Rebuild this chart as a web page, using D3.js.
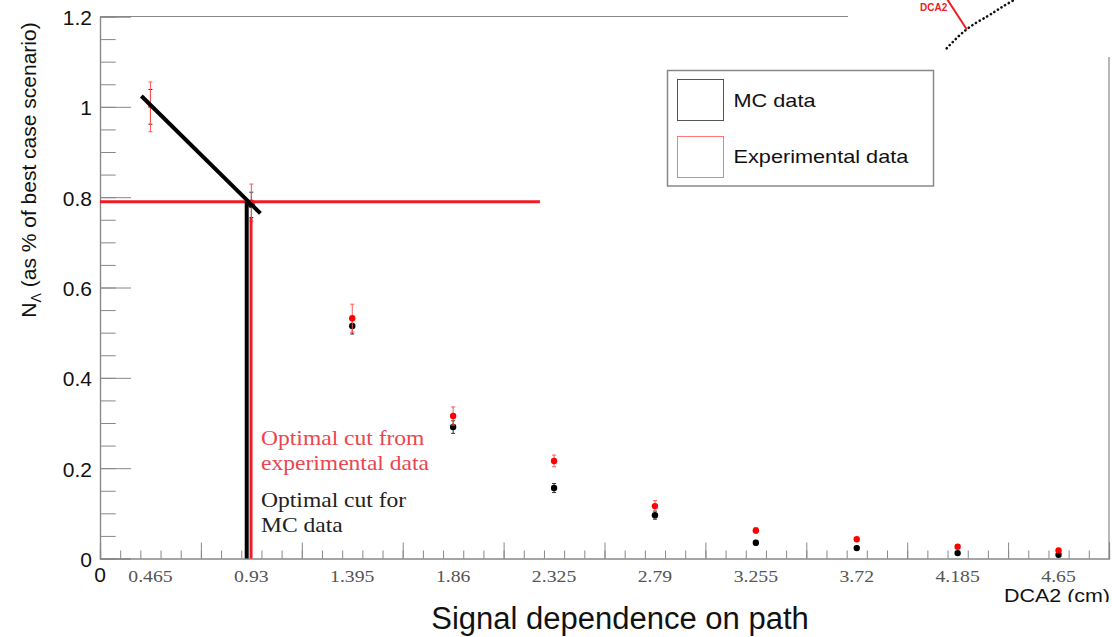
<!DOCTYPE html>
<html>
<head>
<meta charset="utf-8">
<script src="https://cdn.jsdelivr.net/npm/d3@7"></script>
<style>
  body { margin: 0; background: #fff; }
  .sans { font-family: "Liberation Sans", Arial, sans-serif; }
  .serif { font-family: "Liberation Serif", "Times New Roman", serif; }
</style>
</head>
<body>
<div id="grafDCA"></div>
<script>
// bin labels (DCA2 in cm) and the two series
const dcaLabels = ["0.465", "0.93", "1.395", "1.86", "2.325", "2.79", "3.255", "3.72", "4.185", "4.65"]
const mcValues = [1.0, 0.783, 0.515, 0.291, 0.156, 0.096, 0.035, 0.023, 0.012, 0.0084]
const mcErrors = [0.0385, 0.028, 0.018, 0.014, 0.01, 0.009, 0.005, 0.004, 0.003, 0.003]
const expValues = [1.0, 0.788, 0.532, 0.3155, 0.216, 0.116, 0.062, 0.0425, 0.026, 0.018]
const expErrors = [0.055, 0.041, 0.031, 0.02, 0.013, 0.012, 0.006, 0.004, 0.003, 0.003]
const yTicks = [0, 0.2, 0.4, 0.6, 0.8, 1, 1.2]

// optimal cut annotations (x in bin units, y in N fraction)
const mcFitLine = [[0.41, 1.024], [1.59, 0.764]]
const expCutLevel = 0.79
const expCutEnd = 4.36
const mcCutX = 1.454
const expCutX = 1.497
const expCutTop = 0.754

const legendItems = ["MC data", "Experimental data"]

const W = 1112, H = 637
const rojo = "#ee1c25"
const estirar = 1.16 // the original picture is a bit wider than tall

const svg = d3.select("#grafDCA")
  .append("svg")
  .attr("width", W)
  .attr("height", H)

const x = d3.scaleLinear().domain([0, dcaLabels.length]).range([100, 1109])
const y = d3.scaleLinear().domain([0, 1.2]).range([558.5, 16.5])

// text squeezed like the original image
const texto = (parent, px, py, size, clase) =>
  parent.append("text")
    .attr("class", clase)
    .attr("transform", `translate(${px},${py}) scale(${estirar},1)`)
    .attr("font-size", size)

// frame
svg.append("path")
  .attr("d", `M${x(0)},${y(1.2)}H${x(10)}V${y(0)}`)
  .attr("fill", "none")
  .attr("stroke", "#888")
  .attr("stroke-width", 1.2)

// y axis: major + minor ticks pointing inwards
const yMinor = svg.append("g").attr("transform", `translate(${x(0)},0)`)
  .call(d3.axisLeft(y).tickValues(d3.range(0, 1.2001, 0.05)).tickSize(-15.7).tickFormat(""))
const yMajor = svg.append("g").attr("transform", `translate(${x(0)},0)`)
  .call(d3.axisLeft(y).tickValues(yTicks).tickSize(-31).tickPadding(8).tickFormat(d3.format("")))

// x axis
const xMinor = svg.append("g").attr("transform", `translate(0,${y(0)})`)
  .call(d3.axisBottom(x).tickValues(d3.range(0, 10.001, 0.2)).tickSize(-8).tickFormat(""))
const xMajor = svg.append("g").attr("transform", `translate(0,${y(0)})`)
  .call(d3.axisBottom(x).tickValues(d3.range(0, 11)).tickSize(-16).tickFormat(""))

svg.selectAll(".domain").attr("stroke", "#888").attr("stroke-width", 1.2)
svg.selectAll(".tick line").attr("stroke", "#888").attr("stroke-width", 1)
yMajor.selectAll("text")
  .attr("class", "sans")
  .attr("font-size", 21)
  .attr("fill", "#111")
  .attr("dy", "0.38em")

// bin labels at bin centres
const gLabels = svg.append("g")
dcaLabels.forEach((d, i) => {
  texto(gLabels, x(i + 0.5), 581.5, 17, "serif")
    .attr("text-anchor", "middle")
    .attr("fill", "#555")
    .text(d)
})

svg.append("text")
  .attr("class", "sans")
  .attr("x", x(0))
  .attr("y", 582)
  .attr("text-anchor", "middle")
  .attr("font-size", 21)
  .attr("fill", "#111")
  .text("0")

// axis titles
const yTitle = svg.append("text")
  .attr("class", "sans")
  .attr("transform", "translate(36,170) rotate(-90)")
  .attr("text-anchor", "middle")
  .attr("font-size", 21)
  .attr("fill", "#111")
yTitle.append("tspan").text("N")
yTitle.append("tspan").attr("font-size", 14).attr("dy", 5).text("Λ")
yTitle.append("tspan").attr("dy", -5).text(" (as % of best case scenario)")

svg.append("clipPath").attr("id", "corte")
  .append("rect").attr("x", 0).attr("y", 0).attr("width", W).attr("height", 602)

svg.append("g").attr("clip-path", "url(#corte)")
  .call(g => texto(g, 1110, 602, 18.5, "sans")
    .attr("text-anchor", "end")
    .attr("fill", "#111")
    .text("DCA2 (cm)"))

svg.append("text")
  .attr("class", "sans")
  .attr("x", 620)
  .attr("y", 629)
  .attr("text-anchor", "middle")
  .attr("font-size", 31)
  .attr("fill", "#111")
  .text("Signal dependence on path")

// data points with error bars
const dibujarSerie = (valores, errores, color, barColor, grupo) => {
  const g = svg.append("g").attr("class", grupo)
  const puntos = valores.map((v, i) => ({ i, v, e: errores[i] }))
  g.selectAll("line.err")
    .data(puntos)
    .enter()
    .append("line")
    .attr("class", "err")
    .attr("x1", d => x(d.i + 0.5))
    .attr("x2", d => x(d.i + 0.5))
    .attr("y1", d => y(d.v - d.e))
    .attr("y2", d => y(d.v + d.e))
    .attr("stroke", barColor)
    .attr("stroke-width", 1)
  g.selectAll("path.cap")
    .data(puntos)
    .enter()
    .append("path")
    .attr("class", "cap")
    .attr("d", d => `M${x(d.i + 0.5) - 2},${y(d.v - d.e)}h4M${x(d.i + 0.5) - 2},${y(d.v + d.e)}h4`)
    .attr("stroke", barColor)
    .attr("stroke-width", 1)
  // first bin has no visible marker, only a centre tick
  g.selectAll("circle")
    .data(puntos.filter(d => d.i > 0))
    .enter()
    .append("circle")
    .attr("cx", d => x(d.i + 0.5))
    .attr("cy", d => y(d.v))
    .attr("r", 3.2)
    .attr("fill", color)
  g.append("path")
    .attr("d", `M${x(0.5) - 2},${y(valores[0])}h4`)
    .attr("stroke", barColor)
    .attr("stroke-width", 1.5)
}

dibujarSerie(mcValues, mcErrors, "#000", "#333", "mc")
dibujarSerie(expValues, expErrors, "#f00", "#f55", "exp")

// optimal cut lines
svg.append("line")
  .attr("x1", x(0)).attr("x2", x(expCutEnd))
  .attr("y1", y(expCutLevel)).attr("y2", y(expCutLevel))
  .attr("stroke", rojo).attr("stroke-width", 3)

svg.append("line")
  .attr("x1", x(expCutX)).attr("x2", x(expCutX))
  .attr("y1", y(0)).attr("y2", y(expCutTop))
  .attr("stroke", rojo).attr("stroke-width", 3)

svg.append("line")
  .attr("x1", x(mcCutX)).attr("x2", x(mcCutX))
  .attr("y1", y(0)).attr("y2", y(expCutLevel))
  .attr("stroke", "#000").attr("stroke-width", 4)

svg.append("path")
  .attr("d", d3.line().x(d => x(d[0])).y(d => y(d[1]))(mcFitLine))
  .attr("stroke", "#000").attr("stroke-width", 4)

// annotation texts
const notas = [
  { lines: ["Optimal cut from", "experimental data"], color: "#ea4650", at: 0.251 },
  { lines: ["Optimal cut for", "MC data"], color: "#222", at: 0.115 }
]
notas.forEach(n => {
  n.lines.forEach((l, k) => {
    texto(svg, x(expCutX) + 10, y(n.at) + k * 25, 20.3, "serif")
      .attr("fill", n.color)
      .text(l)
  })
})

// legend
const leyenda = svg.append("g").attr("transform", "translate(667.5,70.5)")
leyenda.append("rect")
  .attr("width", 266).attr("height", 115.5)
  .attr("fill", "#fff").attr("stroke", "#888").attr("stroke-width", 1.5)
leyenda.selectAll("rect.box")
  .data(legendItems)
  .enter()
  .append("rect")
  .attr("class", "box")
  .attr("x", 10)
  .attr("y", (d, i) => 9 + i * 57)
  .attr("width", 46).attr("height", 41)
  .attr("fill", "none")
  .attr("stroke", (d, i) => i === 0 ? "#555" : "#f77")
  .attr("stroke-width", 1)
legendItems.forEach((d, i) => {
  texto(leyenda, 66, 36.5 + i * 56, 18.7, "sans")
    .attr("fill", "#111")
    .text(d)
})

// little DCA2 sketch pasted over the top right corner
const esquina = svg.append("g")
esquina.append("rect").attr("x", 848).attr("y", 0).attr("width", W - 848).attr("height", 57).attr("fill", "#fff")
const traza = [[946.7, 48.3], [966.7, 29.3], [986.7, 16.7], [1000, 8.3], [1014, 0]]
esquina.append("path")
  .attr("d", d3.line().curve(d3.curveNatural)(traza))
  .attr("fill", "none")
  .attr("stroke", "#111")
  .attr("stroke-width", 2.6)
  .attr("stroke-linecap", "round")
  .attr("stroke-dasharray", "0.1 4.2")
esquina.append("line")
  .attr("x1", 947).attr("y1", -1).attr("x2", 966.7).attr("y2", 29.3)
  .attr("stroke", rojo).attr("stroke-width", 2)
esquina.append("text")
  .attr("class", "sans")
  .attr("x", 920).attr("y", 11)
  .attr("font-size", 10)
  .attr("font-weight", "bold")
  .attr("fill", rojo)
  .text("DCA2")
</script>
</body>
</html>
